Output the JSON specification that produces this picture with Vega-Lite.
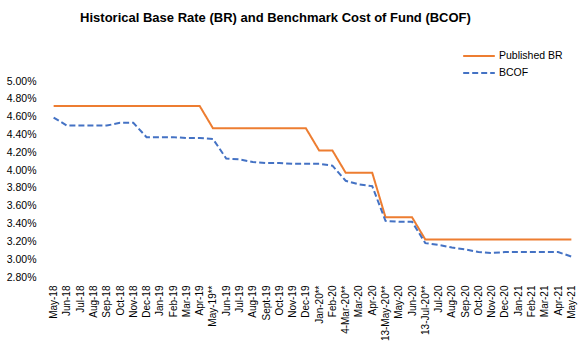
{
  "$schema": "https://vega.github.io/schema/vega-lite/v6.json",
  "autosize": {"type": "none"},
  "padding": {"left": 47, "top": 81, "right": 2, "bottom": 71},
  "width": 531,
  "height": 196,
  "background": "white",
  "config": {"view": {"stroke": null}, "font": "Liberation Sans"},
  "title": {
    "text": "Historical Base Rate (BR) and Benchmark Cost of Fund (BCOF)",
    "anchor": "middle",
    "frame": "group",
    "dx": -37,
    "baseline": "alphabetic",
    "offset": 13,
    "font": "Liberation Sans",
    "fontSize": 13,
    "fontWeight": "bold",
    "color": "#000000"
  },
  "data": {
    "values": [
      {"month": "May-18", "series": "Published BR", "rate": 0.0472},
      {"month": "Jun-18", "series": "Published BR", "rate": 0.0472},
      {"month": "Jul-18", "series": "Published BR", "rate": 0.0472},
      {"month": "Aug-18", "series": "Published BR", "rate": 0.0472},
      {"month": "Sep-18", "series": "Published BR", "rate": 0.0472},
      {"month": "Oct-18", "series": "Published BR", "rate": 0.0472},
      {"month": "Nov-18", "series": "Published BR", "rate": 0.0472},
      {"month": "Dec-18", "series": "Published BR", "rate": 0.0472},
      {"month": "Jan-19", "series": "Published BR", "rate": 0.0472},
      {"month": "Feb-19", "series": "Published BR", "rate": 0.0472},
      {"month": "Mar-19", "series": "Published BR", "rate": 0.0472},
      {"month": "Apr-19", "series": "Published BR", "rate": 0.0472},
      {"month": "May-19**", "series": "Published BR", "rate": 0.0447},
      {"month": "Jun-19", "series": "Published BR", "rate": 0.0447},
      {"month": "Jul-19", "series": "Published BR", "rate": 0.0447},
      {"month": "Aug-19", "series": "Published BR", "rate": 0.0447},
      {"month": "Sept-19", "series": "Published BR", "rate": 0.0447},
      {"month": "Oct-19", "series": "Published BR", "rate": 0.0447},
      {"month": "Nov-19", "series": "Published BR", "rate": 0.0447},
      {"month": "Dec-19", "series": "Published BR", "rate": 0.0447},
      {"month": "Jan-20**", "series": "Published BR", "rate": 0.0422},
      {"month": "Feb-20", "series": "Published BR", "rate": 0.0422},
      {"month": "4-Mar-20**", "series": "Published BR", "rate": 0.0397},
      {"month": "Mar-20", "series": "Published BR", "rate": 0.0397},
      {"month": "Apr-20", "series": "Published BR", "rate": 0.0397},
      {"month": "13-May-20**", "series": "Published BR", "rate": 0.0347},
      {"month": "May-20", "series": "Published BR", "rate": 0.0347},
      {"month": "Jun-20", "series": "Published BR", "rate": 0.0347},
      {"month": "13-Jul-20**", "series": "Published BR", "rate": 0.0322},
      {"month": "Jul-20", "series": "Published BR", "rate": 0.0322},
      {"month": "Aug-20", "series": "Published BR", "rate": 0.0322},
      {"month": "Sep-20", "series": "Published BR", "rate": 0.0322},
      {"month": "Oct-20", "series": "Published BR", "rate": 0.0322},
      {"month": "Nov-20", "series": "Published BR", "rate": 0.0322},
      {"month": "Dec-20", "series": "Published BR", "rate": 0.0322},
      {"month": "Jan-21", "series": "Published BR", "rate": 0.0322},
      {"month": "Feb-21", "series": "Published BR", "rate": 0.0322},
      {"month": "Mar-21", "series": "Published BR", "rate": 0.0322},
      {"month": "Apr-21", "series": "Published BR", "rate": 0.0322},
      {"month": "May-21", "series": "Published BR", "rate": 0.0322},
      {"month": "May-18", "series": "BCOF", "rate": 0.0459},
      {"month": "Jun-18", "series": "BCOF", "rate": 0.0450},
      {"month": "Jul-18", "series": "BCOF", "rate": 0.0450},
      {"month": "Aug-18", "series": "BCOF", "rate": 0.0450},
      {"month": "Sep-18", "series": "BCOF", "rate": 0.0450},
      {"month": "Oct-18", "series": "BCOF", "rate": 0.0453},
      {"month": "Nov-18", "series": "BCOF", "rate": 0.0453},
      {"month": "Dec-18", "series": "BCOF", "rate": 0.0437},
      {"month": "Jan-19", "series": "BCOF", "rate": 0.0437},
      {"month": "Feb-19", "series": "BCOF", "rate": 0.0437},
      {"month": "Mar-19", "series": "BCOF", "rate": 0.0436},
      {"month": "Apr-19", "series": "BCOF", "rate": 0.0436},
      {"month": "May-19**", "series": "BCOF", "rate": 0.0435},
      {"month": "Jun-19", "series": "BCOF", "rate": 0.0413},
      {"month": "Jul-19", "series": "BCOF", "rate": 0.0412},
      {"month": "Aug-19", "series": "BCOF", "rate": 0.0409},
      {"month": "Sept-19", "series": "BCOF", "rate": 0.0408},
      {"month": "Oct-19", "series": "BCOF", "rate": 0.0408},
      {"month": "Nov-19", "series": "BCOF", "rate": 0.0407},
      {"month": "Dec-19", "series": "BCOF", "rate": 0.0407},
      {"month": "Jan-20**", "series": "BCOF", "rate": 0.0407},
      {"month": "Feb-20", "series": "BCOF", "rate": 0.0405},
      {"month": "4-Mar-20**", "series": "BCOF", "rate": 0.0388},
      {"month": "Mar-20", "series": "BCOF", "rate": 0.0384},
      {"month": "Apr-20", "series": "BCOF", "rate": 0.0382},
      {"month": "13-May-20**", "series": "BCOF", "rate": 0.0343},
      {"month": "May-20", "series": "BCOF", "rate": 0.0342},
      {"month": "Jun-20", "series": "BCOF", "rate": 0.0342},
      {"month": "13-Jul-20**", "series": "BCOF", "rate": 0.0318},
      {"month": "Jul-20", "series": "BCOF", "rate": 0.0316},
      {"month": "Aug-20", "series": "BCOF", "rate": 0.0313},
      {"month": "Sep-20", "series": "BCOF", "rate": 0.0311},
      {"month": "Oct-20", "series": "BCOF", "rate": 0.0308},
      {"month": "Nov-20", "series": "BCOF", "rate": 0.0307},
      {"month": "Dec-20", "series": "BCOF", "rate": 0.0308},
      {"month": "Jan-21", "series": "BCOF", "rate": 0.0308},
      {"month": "Feb-21", "series": "BCOF", "rate": 0.0308},
      {"month": "Mar-21", "series": "BCOF", "rate": 0.0308},
      {"month": "Apr-21", "series": "BCOF", "rate": 0.0308},
      {"month": "May-21", "series": "BCOF", "rate": 0.0303}
    ]
  },
  "mark": {"type": "line", "strokeWidth": 2, "interpolate": "linear"},
  "encoding": {
    "x": {
      "field": "month",
      "type": "ordinal",
      "sort": null,
      "scale": {"type": "point", "padding": 0.5},
      "axis": {
        "title": null,
        "labelAngle": 270,
        "labelAlign": "right",
        "labelBaseline": "middle",
        "labelFontSize": 10,
        "labelColor": "#000000",
        "labelPadding": 8,
        "ticks": false,
        "domain": false,
        "grid": false
      }
    },
    "y": {
      "field": "rate",
      "type": "quantitative",
      "scale": {"domain": [0.028, 0.05], "zero": false, "nice": false},
      "axis": {
        "title": null,
        "format": ".2%",
        "values": [0.028, 0.03, 0.032, 0.034, 0.036, 0.038, 0.04, 0.042, 0.044, 0.046, 0.048, 0.05],
        "labelFontSize": 10.5,
        "labelColor": "#000000",
        "labelPadding": 11,
        "ticks": false,
        "domain": false,
        "grid": false
      }
    },
    "color": {
      "field": "series",
      "type": "nominal",
      "sort": ["Published BR", "BCOF"],
      "scale": {"domain": ["Published BR", "BCOF"], "range": ["#ED7D31", "#4472C4"]},
      "legend": {
        "title": null,
        "orient": "none",
        "legendX": 415,
        "legendY": -33.5,
        "symbolType": "stroke",
        "symbolSize": 1000,
        "symbolStrokeWidth": 2,
        "clipHeight": 17,
        "labelFontSize": 10.5,
        "labelColor": "#000000",
        "labelOffset": 3,
        "rowPadding": 0
      }
    },
    "strokeDash": {
      "field": "series",
      "type": "nominal",
      "sort": ["Published BR", "BCOF"],
      "scale": {"domain": ["Published BR", "BCOF"], "range": [[1, 0], [6, 3]]},
      "legend": {
        "title": null,
        "orient": "none",
        "legendX": 415,
        "legendY": -33.5,
        "symbolType": "stroke",
        "symbolSize": 1000,
        "symbolStrokeWidth": 2,
        "clipHeight": 17,
        "labelFontSize": 10.5,
        "labelColor": "#000000",
        "labelOffset": 3,
        "rowPadding": 0
      }
    }
  }
}
